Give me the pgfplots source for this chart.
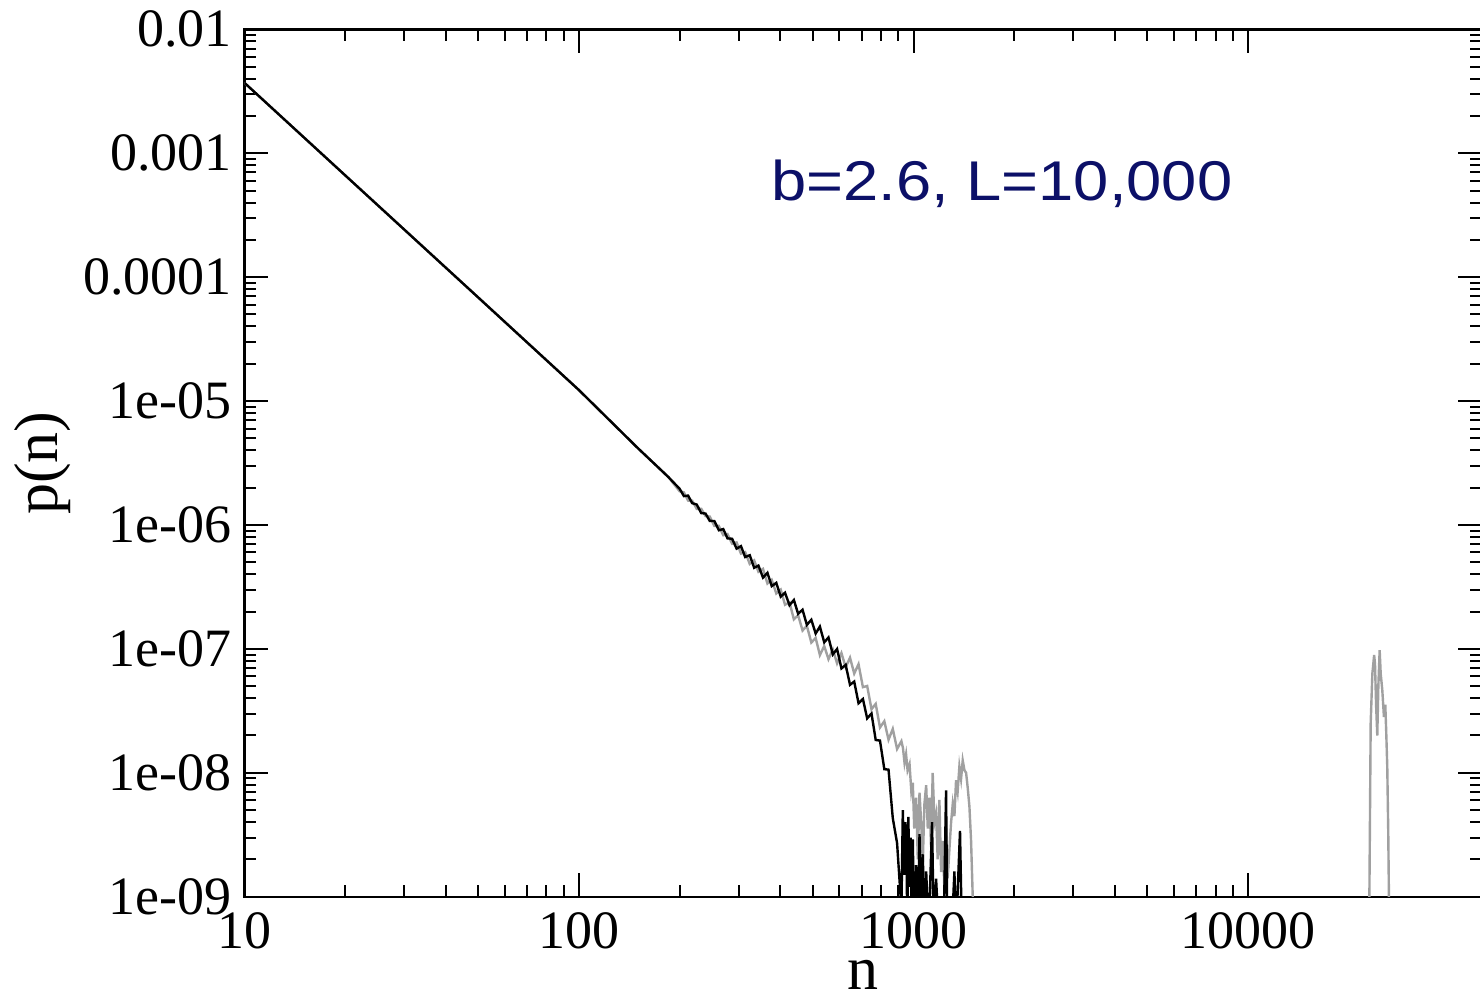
\documentclass[border=0pt]{standalone}
\usepackage{fontspec}
\setmainfont{Liberation Serif}
\newfontfamily\annfont{Liberation Sans}
\usepackage{pgfplots}
\pgfplotsset{compat=1.18}
\definecolor{lgrey}{RGB}{160,160,160}
\definecolor{navytext}{RGB}{12,16,104}
\begin{document}
\begin{tikzpicture}
\begin{axis}[
  scale only axis,
  width=618.85pt, height=433.7pt,
  xmode=log, ymode=log,
  xmin=10, xmax=50000, ymin=1e-9, ymax=1e-2,
  xtick={10,100,1000,10000},
  xticklabels={10,100,1000,10000},
  ytick={1e-9,1e-8,1e-7,1e-6,1e-5,1e-4,1e-3,1e-2},
  yticklabels={1e-09,1e-08,1e-07,1e-06,1e-05,0.0001,0.001,0.01},
  xtick pos=both, ytick pos=both,
  xticklabel pos=lower, yticklabel pos=left,
  tick align=inside,
  major tick length=12pt, minor tick length=6pt,
  every tick/.style={black, line width=1pt},
  axis line style={line width=1.2pt},
  tick label style={font=\fontsize{27}{31}\selectfont},
  xticklabel style={anchor=north, inner sep=0pt, yshift=-7.5pt},
  yticklabel style={anchor=east, inner sep=0pt, xshift=-6pt},
  xlabel={n}, ylabel={p(n)},
  every axis x label/.style={at={(axis description cs:0.5,0)}, anchor=base, yshift=-46.5pt, font=\fontsize{31}{36}\selectfont},
  every axis y label/.style={at={(axis description cs:0,0.5)}, xshift=-100.9pt, rotate=90, anchor=center, font=\fontsize{31}{36}\selectfont},
  clip=true,
]
% grey series
\addplot[lgrey, line width=1.2pt] coordinates {
(10,3.71e-3) (20,6.65e-4) (50,6.86e-5) (100,1.227e-5) (150,4.17e-6) (170,3.03e-6) (185,2.44e-6)
(200,1.871e-6) (206,1.832e-6) (212,1.574e-6) (218,1.570e-6) (225,1.349e-6) (232,1.352e-6)
(239,1.180e-6) (246,1.169e-6) (254,9.82e-7) (262,9.82e-7) (270,8.26e-7) (278,8.45e-7)
(287,7.06e-7) (296,7.23e-7) (305,5.87e-7) (314,6.04e-7) (324,4.85e-7) (334,5.18e-7)
(344,4.19e-7) (355,4.42e-7) (366,3.37e-7) (377,3.61e-7) (389,2.80e-7) (401,3.01e-7)
(413,2.27e-7) (426,2.37e-7) (439,1.73e-7) (452,1.87e-7) (466,1.406e-7) (480,1.535e-7)
(495,1.125e-7) (510,1.225e-7) (525,8.91e-8) (541,1.054e-7) (557,8.26e-8) (574,9.89e-8)
(591,7.64e-8) (609,9.25e-8) (627,7.11e-8) (646,8.49e-8) (665,6.32e-8) (685,7.53e-8)
(706,4.91e-8) (727,5.02e-8) (749,3.26e-8) (771,3.60e-8) (794,2.32e-8) (818,2.61e-8)
(842,1.85e-8) (867,2.26e-8) (893,1.556e-8) (920,1.80e-8)
(930,1.585e-8) (940,1.202e-8) (950,1.413e-8) (960,1.047e-8) (973,1.175e-8) (985,7.08e-9)
(995,8.32e-9) (1005,3.55e-9) (1018,6.31e-9) (1030,2.0e-9) (1042,6.92e-9) (1054,3.98e-9)
(1066,1.91e-9) (1078,5.62e-9) (1091,7.94e-9) (1103,3.55e-9) (1116,6.31e-9) (1128,2.51e-9)
(1141,1.0e-8) (1155,3.98e-9) (1168,4.68e-9) (1181,2.0e-9) (1195,6.03e-9) (1209,1.58e-9)
(1223,2.82e-9) (1237,1.12e-9) (1251,3.55e-9) (1265,1.41e-9) (1280,2.40e-9) (1295,3.98e-9)
(1310,5.62e-9) (1325,4.47e-9) (1340,8.71e-9) (1355,7.08e-9) (1371,1.122e-8) (1387,8.91e-9)
(1403,1.259e-8) (1420,1.047e-8) (1436,1.0e-8) (1452,7.59e-9) (1469,5.37e-9) (1486,2.82e-9)
(1503,1.0e-9) (1520,3.2e-10)
(22960,3.2e-10) (23240,2.51e-8) (23510,6.31e-8) (23800,8.91e-8) (23940,7.59e-8)
(24120,3.55e-8) (24320,2.0e-8) (24500,5.01e-8) (24720,9.77e-8) (24900,6.31e-8)
(25170,4.68e-8) (25460,2.82e-8) (25700,3.55e-8) (25870,2.09e-8) (26050,1.12e-8)
(26230,3.24e-9) (26350,1.0e-9) (26450,3.2e-10)
};
% black series
\addplot[black, line width=1.2pt] coordinates {
(10,3.71e-3) (20,6.65e-4) (50,6.86e-5) (100,1.227e-5) (150,4.17e-6) (170,3.03e-6) (185,2.44e-6)
(200,1.959e-6) (206,1.71e-6) (212,1.726e-6) (218,1.50e-6) (225,1.462e-6) (232,1.247e-6)
(239,1.236e-6) (246,1.079e-6) (254,1.076e-6) (262,9.06e-7) (270,9.27e-7) (278,7.80e-7)
(287,7.74e-7) (296,6.44e-7) (305,6.75e-7) (314,5.51e-7) (324,5.70e-7) (334,4.51e-7)
(344,4.70e-7) (355,3.76e-7) (366,4.11e-7) (377,3.21e-7) (389,3.41e-7) (401,2.64e-7)
(413,2.84e-7) (426,2.25e-7) (439,2.48e-7) (452,1.92e-7) (466,2.07e-7) (480,1.563e-7)
(495,1.718e-7) (510,1.33e-7) (525,1.514e-7) (541,1.13e-7) (557,1.236e-7) (574,9.02e-8)
(591,9.98e-8) (609,6.95e-8) (627,7.43e-8) (646,5.13e-8) (665,5.45e-8) (685,3.64e-8)
(706,3.94e-8) (727,2.75e-8) (749,3.01e-8) (771,1.84e-8) (794,1.82e-8) (818,1.07e-8)
(842,1.06e-8) (867,4.31e-9) (893,2.71e-9) (920,8e-10)
(929,5.0e-9) (938,1.5e-9) (945,4.0e-9) (951,3.4e-9) (958,6e-10) (965,4.4e-9) (973,1.2e-9)
(980,3.0e-9) (988,6e-10) (995,2.9e-9) (1005,5e-10) (1018,1.8e-9) (1030,5e-10) (1042,3.2e-9)
(1052,8e-10) (1066,2.2e-9) (1078,5e-10) (1091,1.6e-9) (1110,5e-10) (1136,4.0e-9) (1150,5e-10)
(1168,1.4e-9) (1190,5e-10) (1230,5e-10) (1251,7.2e-9) (1262,5e-10) (1300,5e-10) (1325,1.6e-9)
(1340,5e-10) (1377,3.4e-9) (1395,5e-10)
};
\node[anchor=base, inner sep=0pt, text=navytext, font=\annfont\fontsize{28}{32}\selectfont] at (axis cs:1837,4.19e-4) {\scalebox{1.13}[1]{b=2.6, L=10,000}};
\end{axis}
\pgfresetboundingbox
\path[use as bounding box] ([shift={(-122.15pt,-50.15pt)}]current axis.south west) rectangle ([shift={(617.85pt,448.35pt)}]current axis.south west);
\end{tikzpicture}
\end{document}
